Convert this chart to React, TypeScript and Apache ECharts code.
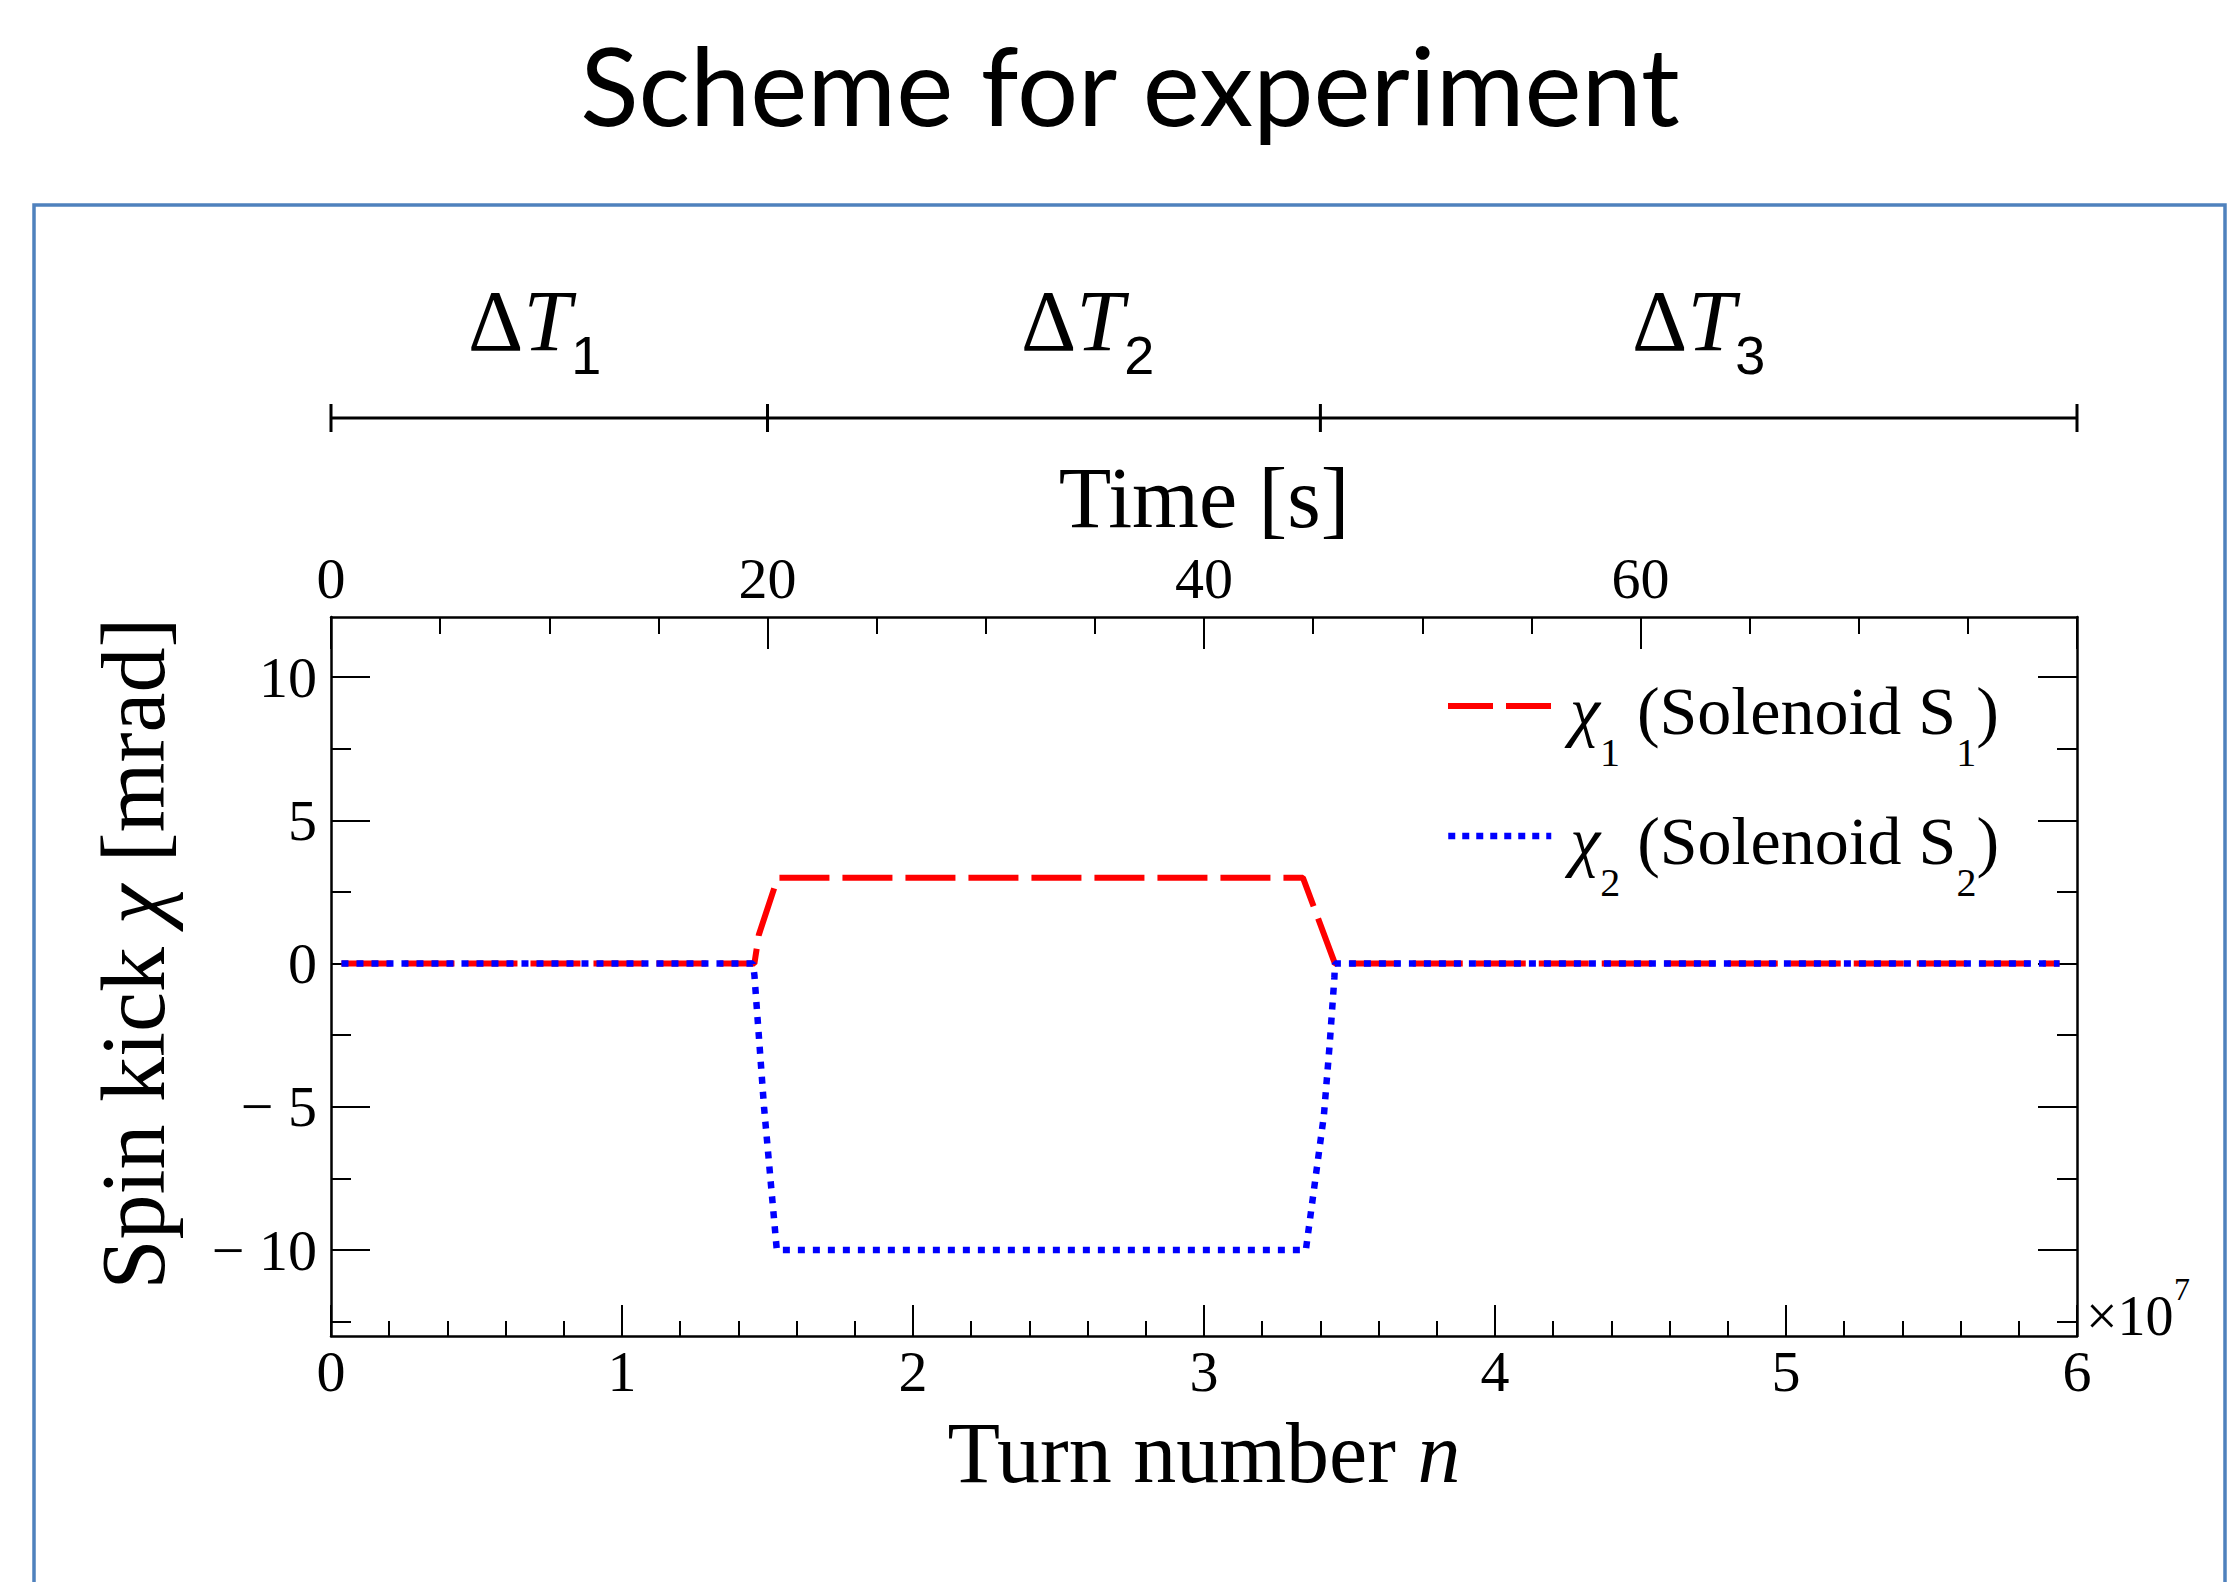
import React, { useEffect, useRef } from "react";
import * as echarts from "echarts";

const W = 2227;
const H = 1582;

// Series data (turn number, spin kick in mrad)
const turnsChi1 = [0.036e7, 1.455e7, 1.47e7, 1.535e7, 3.34e7, 3.45e7, 5.94e7];
const chi1 = [0, 0, 1, 3, 3, 0, 0];
const turnsChi2 = [0.036e7, 1.45e7, 1.455e7, 1.488e7, 1.532e7, 3.35e7, 3.412e7, 3.432e7, 3.448e7, 3.45e7, 5.94e7];
const chi2 = [0, 0, -0.4, -5, -10, -10, -5.3, -2.8, -0.5, 0, 0];

// Axis ticks
const yMajor = [-10, -5, 0, 5, 10];
const yMinor = [-12.5, -7.5, -2.5, 2.5, 7.5];

// Phase bar (in turns)
const phaseBounds = [0, 1.5e7, 3.4e7, 6e7];
const phaseLabelPos = [0.7e7, 2.6e7, 4.7e7];
const phaseSubs = ["1", "2", "3"];

const SERIF = "Liberation Serif";
const BLACK = "#000";
const RED = "#ff0000";
const BLUE = "#0000ff";

const yLabelFmt = (v: number) => (v < 0 ? `\u2212 ${-v}` : `${v}`);

export default function App() {
  const ref = useRef<HTMLDivElement>(null);
  useEffect(() => {
    document.body.style.margin = "0";
    const chart = echarts.init(ref.current!, null, { renderer: "svg", width: W, height: H });

    const axisLine = { show: true, onZero: false, lineStyle: { color: BLACK, width: 2.5 } };
    const noLine = { show: false, onZero: false };
    const tickLine = { color: BLACK, width: 2 };
    const yBase = { type: "value", min: -13, max: 12.1, splitLine: { show: false } };

    const legendRich = {
      c: { fontFamily: SERIF, fontStyle: "italic", fontSize: 68, lineHeight: 68, padding: [36, 0, 27, 14], verticalAlign: "bottom", color: BLACK },
      t: { fontFamily: SERIF, fontSize: 68, lineHeight: 68, padding: [36, 0, 27, 0], verticalAlign: "bottom", color: BLACK },
      s: { fontFamily: SERIF, fontSize: 40, lineHeight: 40, verticalAlign: "bottom", color: BLACK },
    };
    const legendCommon = {
      left: 1445, padding: 0, itemWidth: 103, itemHeight: 14, selectedMode: false,
      itemStyle: { opacity: 0 },
      textStyle: { rich: legendRich, padding: [64, 0, 0, 0] },
    };

    const axisNameRich = {
      a: { fontFamily: SERIF, fontSize: 86, color: BLACK },
      b: { fontFamily: SERIF, fontSize: 86, fontStyle: "italic", color: BLACK },
    };
    const yNameRich = {
      a: { fontFamily: SERIF, fontSize: 90, color: BLACK },
      b: { fontFamily: SERIF, fontSize: 90, fontStyle: "italic", color: BLACK },
    };

    const option: any = {
      animation: false,
      backgroundColor: "#fff",
      grid: { left: 331, right: W - 2077, top: 617, bottom: H - 1336, containLabel: false },
      legend: [
        {
          ...legendCommon, data: ["chi1"], top: 641,
          lineStyle: { color: RED, width: 6, type: [45, 13], cap: "butt" },
          formatter: () => "{c|\u03c7}{s|1}{t| (Solenoid S}{s|1}{t|)}",
        },
        {
          ...legendCommon, data: ["chi2"], top: 771,
          lineStyle: { color: BLUE, width: 6.5, type: [7, 7], cap: "butt" },
          formatter: () => "{c|\u03c7}{s|2}{t| (Solenoid S}{s|2}{t|)}",
        },
      ],
      xAxis: [
        {
          type: "value", position: "bottom", min: 0, max: 6e7, interval: 1e7,
          axisLine, axisTick: { show: true, inside: true, length: 31, lineStyle: tickLine },
          minorTick: { show: true, splitNumber: 5, length: 15, lineStyle: tickLine },
          axisLabel: { formatter: (v: number) => String(Math.round(v / 1e6) / 10), fontFamily: SERIF, fontSize: 58, color: BLACK, margin: 6 },
          splitLine: { show: false },
          name: "{a|Turn number }{b|n}", nameLocation: "middle", nameGap: 74,
          nameTextStyle: { fontFamily: SERIF, fontSize: 86, color: BLACK, rich: axisNameRich },
        },
        {
          type: "value", position: "top", min: 0, max: 80, interval: 20,
          axisLine, axisTick: { show: true, inside: true, length: 32, lineStyle: tickLine },
          minorTick: { show: true, splitNumber: 4, length: 17, lineStyle: tickLine },
          axisLabel: { showMaxLabel: false, fontFamily: SERIF, fontSize: 58, color: BLACK, margin: 10 },
          splitLine: { show: false },
          name: "Time [s]", nameLocation: "middle", nameGap: 76,
          nameTextStyle: { fontFamily: SERIF, fontSize: 86, color: BLACK },
        },
      ],
      yAxis: [
        {
          ...yBase, position: "left", axisLine,
          axisTick: { show: true, inside: true, length: 39, customValues: yMajor, lineStyle: tickLine },
          axisLabel: { customValues: yMajor, formatter: yLabelFmt, fontFamily: SERIF, fontSize: 58, color: BLACK, margin: 14 },
          name: "{a|Spin kick }{b|\u03c7}{a| [mrad]}", nameLocation: "middle", nameGap: 153,
          nameTextStyle: { fontFamily: SERIF, fontSize: 90, color: BLACK, rich: yNameRich, padding: [0, 0, 0, 46] },
        },
        {
          ...yBase, position: "left", axisLine: noLine,
          axisTick: { show: true, inside: true, length: 20, customValues: yMinor, lineStyle: tickLine },
          axisLabel: { show: false },
        },
        {
          ...yBase, position: "right", axisLine,
          axisTick: { show: true, inside: true, length: 39, customValues: yMajor, lineStyle: tickLine },
          axisLabel: { show: false },
        },
        {
          ...yBase, position: "right", axisLine: noLine,
          axisTick: { show: true, inside: true, length: 20, customValues: yMinor, lineStyle: tickLine },
          axisLabel: { show: false },
        },
      ],
      series: [
        {
          name: "chi1", type: "line", xAxisIndex: 0, yAxisIndex: 0, symbol: "none", showSymbol: false,
          data: turnsChi1.map((t, i) => [t, chi1[i]]),
          lineStyle: { color: RED, width: 6, type: [50, 13], cap: "butt" },
          itemStyle: { color: RED }, z: 3,
        },
        {
          name: "chi2", type: "line", xAxisIndex: 0, yAxisIndex: 0, symbol: "none", showSymbol: false,
          data: turnsChi2.map((t, i) => [t, chi2[i]]),
          lineStyle: { color: BLUE, width: 6.5, type: [7, 8], cap: "butt" },
          itemStyle: { color: BLUE }, z: 4,
        },
      ],
    };
    chart.setOption(option);

    const px = (t: number) => chart.convertToPixel({ xAxisIndex: 0 }, t) as number;
    const barY = 418;
    const graphics: any[] = [
      {
        type: "rect", silent: true,
        shape: { x: 34, y: 205, width: 2191, height: 1500 },
        style: { fill: "none", stroke: "#4F81BD", lineWidth: 3.5 },
      },
      {
        type: "text", silent: true,
        style: {
          text: "Scheme for experiment", x: 1130, y: 84, fontFamily: "Lato", fontSize: 108, fill: BLACK,
          align: "center", verticalAlign: "middle", textAlign: "center", textVerticalAlign: "middle",
        },
      },
      {
        type: "line", silent: true,
        shape: { x1: px(phaseBounds[0]), y1: barY, x2: px(phaseBounds[phaseBounds.length - 1]), y2: barY },
        style: { stroke: BLACK, lineWidth: 3 },
      },
    ];
    phaseBounds.forEach((b) => {
      graphics.push({
        type: "line", silent: true,
        shape: { x1: px(b), y1: barY - 14, x2: px(b), y2: barY + 14 },
        style: { stroke: BLACK, lineWidth: 3 },
      });
    });
    phaseLabelPos.forEach((p, i) => {
      graphics.push({
        type: "text", silent: true,
        style: {
          text: `{d|\u0394}{t|T}{s|${phaseSubs[i]}}`, x: px(p), y: 367 - 71,
          align: "center", verticalAlign: "top", textAlign: "center", textVerticalAlign: "top", fill: BLACK,
          rich: {
            d: { fontFamily: SERIF, fontSize: 86, lineHeight: 86, padding: [0, 0, 18, 0], verticalAlign: "bottom", fill: BLACK },
            t: { fontFamily: SERIF, fontStyle: "italic", fontSize: 86, lineHeight: 86, padding: [0, 0, 18, 0], verticalAlign: "bottom", fill: BLACK },
            s: { fontFamily: "Liberation Sans", fontSize: 54, lineHeight: 54, verticalAlign: "bottom", fill: BLACK },
          },
        },
      });
    });
    const cornerX = px(6e7);
    graphics.push({
      type: "text", silent: true,
      style: {
        text: "\u00d710", x: cornerX + 9, y: 1335 - 0.3375 * 56, fontFamily: SERIF, fontSize: 56, fill: BLACK,
        align: "left", verticalAlign: "middle", textAlign: "left", textVerticalAlign: "middle",
      },
    });
    graphics.push({
      type: "text", silent: true,
      style: {
        text: "7", x: cornerX + 9 + 88, y: 1300 - 0.3375 * 32, fontFamily: SERIF, fontSize: 32, fill: BLACK,
        align: "left", verticalAlign: "middle", textAlign: "left", textVerticalAlign: "middle",
      },
    });
    chart.setOption({ graphic: graphics });

    return () => chart.dispose();
  }, []);
  return <div ref={ref} style={{ position: "fixed", left: 0, top: 0, width: W, height: H, background: "#fff" }} />;
}
